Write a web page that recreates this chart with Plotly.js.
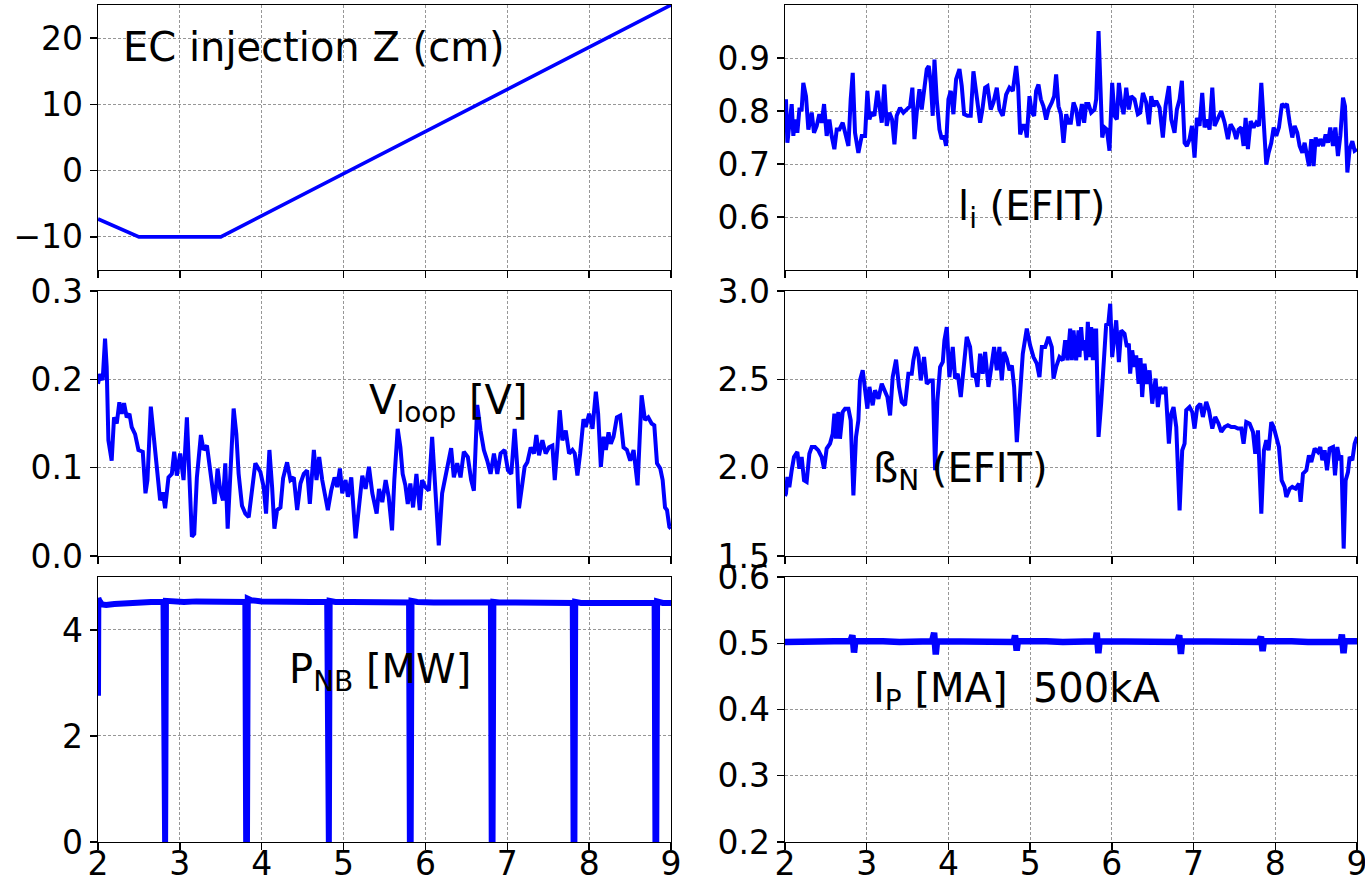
<!DOCTYPE html>
<html>
<head>
<meta charset="utf-8">
<script src="https://cdn.plot.ly/plotly-3.0.1.min.js"></script>
<style>html,body{margin:0;padding:0;background:#fff;}#chart{width:1365px;height:882px;}</style>
</head>
<body>
<div id="chart"></div>
<script>
// ---------- data ----------
const ecT = [2.0, 2.5, 3.5, 9.0];
const ecZ = [-7.3, -10, -10, 25];

const liT = [2.000,2.012,2.029,2.053,2.082,2.102,2.122,2.151,2.176,2.204,2.224,2.257,2.286,2.327,2.355,2.388,2.420,2.449,2.478,2.510,2.543,2.571,2.604,2.633,2.665,2.706,2.747,2.776,2.804,2.829,2.857,2.898,2.939,2.980,3.008,3.033,3.061,3.094,3.131,3.155,3.184,3.216,3.245,3.278,3.310,3.339,3.367,3.408,3.449,3.490,3.531,3.559,3.584,3.612,3.645,3.673,3.702,3.735,3.759,3.784,3.808,3.829,3.857,3.890,3.918,3.947,3.971,4.000,4.029,4.061,4.094,4.135,4.163,4.192,4.233,4.273,4.306,4.347,4.388,4.416,4.449,4.478,4.518,4.551,4.592,4.624,4.665,4.706,4.747,4.788,4.829,4.853,4.878,4.910,4.939,4.959,4.992,5.020,5.049,5.073,5.102,5.131,5.163,5.196,5.224,5.265,5.294,5.318,5.347,5.376,5.408,5.441,5.469,5.498,5.531,5.563,5.592,
5.604,5.633,5.661,5.686,5.714,5.747,5.788,5.808,5.837,5.857,5.882,5.910,5.939,5.971,6.004,6.033,6.061,6.086,6.114,6.143,6.176,6.208,6.237,6.278,6.318,6.347,6.380,6.420,6.453,6.482,6.510,6.543,6.584,6.624,6.657,6.698,6.727,6.767,6.796,6.829,6.857,6.890,6.918,6.951,6.980,7.012,7.041,7.073,7.106,7.135,7.163,7.196,7.229,7.257,7.298,7.339,7.380,7.420,7.453,7.490,7.522,7.551,7.584,7.612,7.637,7.665,7.698,7.735,7.767,7.800,7.829,7.857,7.890,7.918,7.951,7.980,8.012,8.045,8.082,8.114,8.143,8.176,8.208,8.237,8.269,8.298,8.331,8.359,8.388,8.412,8.441,8.469,8.494,8.522,8.551,8.584,8.616,8.645,8.673,8.706,8.735,8.767,8.796,8.829,8.853,8.882,8.910,8.943,8.971,9.000];
const liV = [0.790,0.822,0.740,0.772,0.813,0.753,0.784,0.759,0.803,0.803,0.853,0.828,0.765,0.797,0.759,0.772,0.794,0.778,0.813,0.753,0.784,0.753,0.728,0.765,0.765,0.778,0.747,0.734,0.822,0.872,0.759,0.721,0.753,0.753,0.838,0.784,0.797,0.791,0.838,0.809,0.778,0.850,0.772,0.797,0.784,0.737,0.791,0.806,0.797,0.803,0.809,0.844,0.747,0.797,0.841,0.803,0.844,0.879,0.885,0.853,0.791,0.897,0.822,0.765,0.747,0.753,0.734,0.822,0.838,0.794,0.860,0.879,0.847,0.794,0.791,0.791,0.875,0.828,0.778,0.803,0.844,0.847,0.803,0.816,0.844,0.803,0.791,0.831,0.844,0.838,0.885,0.847,0.756,0.772,0.772,0.750,0.828,0.797,0.791,0.838,0.850,0.822,0.809,0.784,0.803,0.816,0.828,0.869,0.809,0.794,0.740,0.794,0.778,0.778,0.816,0.803,0.772,
0.784,0.813,0.778,0.813,0.813,0.797,0.803,0.822,0.951,0.853,0.750,0.769,0.765,0.725,0.853,0.791,0.784,0.853,0.816,0.794,0.844,0.803,0.828,0.822,0.794,0.797,0.834,0.816,0.775,0.828,0.809,0.819,0.806,0.750,0.809,0.847,0.784,0.759,0.803,0.822,0.857,0.740,0.734,0.747,0.772,0.712,0.787,0.772,0.834,0.769,0.784,0.765,0.844,0.772,0.784,0.800,0.778,0.747,0.775,0.765,0.747,0.765,0.769,0.734,0.787,0.728,0.781,0.769,0.778,0.772,0.853,0.778,0.699,0.721,0.740,0.769,0.753,0.769,0.813,0.809,0.813,0.778,0.750,0.772,0.759,0.734,0.721,0.740,0.712,0.696,0.747,0.696,0.750,0.734,0.747,0.734,0.756,0.740,0.769,0.734,0.769,0.715,0.753,0.825,0.809,0.684,0.728,0.743,0.725,0.728];

const vloopT = [2.000,2.024,2.057,2.086,2.106,2.127,2.167,2.196,2.229,2.261,2.290,2.318,2.351,2.384,2.412,2.453,2.494,2.547,2.580,2.604,2.645,2.678,2.718,2.759,2.792,2.820,2.861,2.902,2.931,2.963,3.004,3.045,3.086,3.118,3.147,3.176,3.208,3.257,3.290,3.331,3.363,3.392,3.424,3.461,3.494,3.527,3.555,3.584,3.616,3.657,3.690,3.718,3.759,3.800,3.841,3.882,3.922,3.984,4.024,4.053,4.094,4.127,4.155,4.188,4.229,4.261,4.310,4.351,4.392,4.433,4.473,4.514,4.555,4.588,4.637,4.669,4.702,4.739,4.780,4.808,4.849,4.890,4.922,4.955,4.984,5.024,5.053,5.094,5.147,5.188,5.229,5.269,5.310,5.351,5.404,5.433,5.473,5.514,5.551,5.592,
5.620,5.661,5.694,5.722,5.755,5.784,5.816,5.849,5.890,5.931,5.959,6.000,6.041,6.082,6.122,6.163,6.204,6.245,6.286,6.314,6.347,6.388,6.429,6.469,6.518,6.559,6.592,6.633,6.673,6.714,6.755,6.796,6.837,6.878,6.918,6.967,7.008,7.049,7.090,7.122,7.143,7.184,7.212,7.245,7.286,7.327,7.355,7.388,7.429,7.469,7.510,7.551,7.580,7.612,7.641,7.673,7.714,7.755,7.796,7.824,7.857,7.890,7.931,7.959,8.000,8.041,8.082,8.110,8.143,8.176,8.204,8.237,8.265,8.298,8.339,8.380,8.420,8.461,8.502,8.543,8.592,8.641,8.682,8.722,8.763,8.796,8.829,8.869,8.898,8.927,8.951,8.980,9.000];
const vloopV = [0.195,0.206,0.199,0.246,0.214,0.131,0.108,0.157,0.150,0.174,0.161,0.173,0.157,0.161,0.146,0.138,0.120,0.118,0.071,0.086,0.169,0.142,0.101,0.063,0.072,0.054,0.089,0.093,0.118,0.091,0.116,0.086,0.157,0.086,0.022,0.025,0.089,0.137,0.120,0.125,0.101,0.086,0.059,0.099,0.074,0.063,0.105,0.031,0.101,0.167,0.138,0.093,0.057,0.048,0.044,0.078,0.105,0.095,0.078,0.048,0.120,0.078,0.031,0.052,0.055,0.088,0.106,0.086,0.089,0.052,0.082,0.093,0.097,0.059,0.120,0.086,0.112,0.086,0.067,0.052,0.074,0.089,0.078,0.099,0.071,0.086,0.067,0.089,0.020,0.052,0.091,0.076,0.101,0.071,0.048,0.076,0.061,0.086,0.067,0.029,
0.086,0.144,0.123,0.093,0.080,0.059,0.082,0.055,0.093,0.052,0.086,0.078,0.074,0.135,0.078,0.012,0.071,0.089,0.105,0.122,0.089,0.105,0.089,0.118,0.112,0.086,0.074,0.171,0.142,0.120,0.108,0.093,0.116,0.093,0.116,0.120,0.097,0.093,0.144,0.101,0.054,0.078,0.101,0.106,0.123,0.116,0.137,0.114,0.131,0.116,0.123,0.125,0.086,0.123,0.165,0.131,0.142,0.116,0.120,0.116,0.091,0.116,0.155,0.146,0.161,0.144,0.186,0.161,0.101,0.135,0.120,0.140,0.127,0.135,0.157,0.159,0.123,0.120,0.108,0.120,0.080,0.182,0.154,0.157,0.150,0.148,0.105,0.099,0.086,0.055,0.052,0.033,0.031];

const betaT = [2.000,2.012,2.029,2.053,2.082,2.110,2.151,2.176,2.204,2.233,2.265,2.298,2.327,2.367,2.408,2.449,2.478,2.510,2.551,2.584,2.604,2.624,2.653,2.673,2.706,2.735,2.776,2.804,2.837,2.869,2.898,2.918,2.951,2.980,3.008,3.033,3.073,3.102,3.143,3.184,3.224,3.253,3.286,3.318,3.359,3.396,3.429,3.469,3.510,3.551,3.571,3.604,3.633,3.661,3.702,3.735,3.776,3.808,3.837,3.865,3.898,3.931,3.951,3.980,4.012,4.053,4.082,4.114,4.151,4.192,4.224,4.265,4.298,4.327,4.355,4.388,4.420,4.449,4.490,4.531,4.559,4.592,4.624,4.653,4.682,4.714,4.747,4.776,4.804,4.837,4.878,4.910,4.959,5.000,5.041,5.082,5.114,5.143,5.184,5.224,5.265,5.286,5.318,5.359,5.400,5.429,5.457,5.490,5.510,5.531,5.563,5.592,
5.604,5.624,5.645,5.665,5.686,5.706,5.727,5.747,5.767,5.788,5.808,5.837,5.869,5.898,5.931,5.955,5.980,6.004,6.033,6.053,6.086,6.114,6.155,6.184,6.208,6.224,6.249,6.278,6.298,6.327,6.351,6.371,6.400,6.429,6.461,6.494,6.535,6.563,6.592,6.624,6.657,6.698,6.727,6.755,6.788,6.829,6.861,6.890,6.910,6.951,6.984,7.012,7.045,7.082,7.114,7.155,7.188,7.229,7.265,7.306,7.339,7.380,7.420,7.461,7.502,7.543,7.584,7.612,7.645,7.686,7.727,7.755,7.788,7.829,7.861,7.890,7.918,7.951,7.980,8.012,8.045,8.078,8.114,8.135,8.176,8.208,8.249,8.290,8.310,8.339,8.380,8.412,8.441,8.482,8.522,8.551,8.576,8.604,8.633,8.665,8.706,8.731,8.759,8.788,8.808,8.837,8.861,8.890,8.910,8.943,8.971,9.000];
const betaV = [1.840,1.853,1.947,1.890,1.985,2.060,2.089,1.994,2.060,1.928,1.919,2.079,2.117,2.117,2.098,2.060,1.994,2.108,2.136,2.192,2.306,2.164,2.315,2.164,2.315,2.334,2.334,2.268,1.843,2.174,2.268,2.494,2.551,2.438,2.334,2.457,2.353,2.438,2.390,2.475,2.438,2.400,2.296,2.513,2.611,2.457,2.372,2.353,2.532,2.532,2.608,2.683,2.636,2.494,2.626,2.475,2.494,2.494,1.985,2.381,2.570,2.598,2.721,2.796,2.513,2.683,2.504,2.532,2.400,2.626,2.740,2.683,2.513,2.532,2.457,2.645,2.532,2.655,2.457,2.589,2.683,2.551,2.683,2.494,2.655,2.617,2.551,2.579,2.457,2.145,2.457,2.645,2.787,2.692,2.626,2.589,2.513,2.683,2.683,2.740,2.683,2.504,2.570,2.626,2.608,2.721,2.608,2.787,2.608,2.777,2.608,2.777,
2.626,2.796,2.664,2.721,2.608,2.825,2.626,2.796,2.608,2.777,2.777,2.174,2.362,2.589,2.815,2.806,2.928,2.626,2.777,2.834,2.598,2.777,2.758,2.683,2.702,2.532,2.664,2.570,2.636,2.475,2.620,2.400,2.589,2.475,2.551,2.362,2.504,2.343,2.457,2.419,2.457,2.136,2.306,2.343,2.230,1.758,2.098,2.136,2.325,2.343,2.315,2.221,2.343,2.362,2.287,2.372,2.325,2.221,2.287,2.249,2.202,2.230,2.240,2.230,2.230,2.221,2.221,2.136,2.258,2.249,2.202,2.079,2.211,1.740,2.098,2.155,2.098,2.258,2.230,2.174,2.117,1.928,1.891,1.834,1.881,1.891,1.881,1.909,1.806,1.966,1.985,2.070,2.032,2.108,2.089,2.117,2.042,2.098,1.985,2.108,2.117,1.957,2.117,2.042,2.070,1.542,1.928,1.975,2.060,2.042,2.136,2.174];

const pnbT = [2.000,2.004,2.015,2.05,2.10,2.20,2.35,2.50,2.65,2.80,2.810,2.820,2.83,2.90,3.05,3.20,3.40,3.60,3.80,3.810,3.820,3.83,3.87,4.00,4.20,4.40,4.60,4.80,4.810,4.820,4.83,4.90,5.10,5.30,5.50,5.80,5.810,5.820,5.83,5.90,6.10,6.30,6.50,6.80,6.810,6.820,6.83,6.90,7.10,7.30,7.50,7.80,7.810,7.820,7.83,7.90,8.10,8.30,8.50,8.80,8.810,8.820,8.83,8.90,9.00];
const pnbV = [2.76,4.60,4.56,4.48,4.47,4.49,4.51,4.52,4.53,4.53,0,0,4.55,4.54,4.53,4.54,4.53,4.54,4.53,0,0,4.59,4.56,4.54,4.53,4.54,4.53,4.53,0,0,4.55,4.53,4.53,4.52,4.53,4.52,0,0,4.55,4.53,4.52,4.52,4.52,4.52,0,0,4.53,4.52,4.52,4.51,4.52,4.51,0,0,4.53,4.51,4.51,4.51,4.52,4.51,0,0,4.54,4.51,4.51];

const ipT = [2.00,2.20,2.40,2.60,2.80,2.825,2.835,2.845,2.86,3.00,3.20,3.40,3.60,3.80,3.825,3.835,3.845,3.86,4.00,4.20,4.40,4.60,4.80,4.815,4.825,4.835,4.85,5.00,5.20,5.40,5.60,5.80,5.815,5.825,5.835,5.85,6.00,6.20,6.40,6.60,6.80,6.825,6.835,6.845,6.86,7.00,7.20,7.40,7.60,7.80,7.825,7.835,7.845,7.86,8.00,8.20,8.40,8.60,8.80,8.815,8.825,8.835,8.85,9.00];
const ipV = [0.502,0.503,0.502,0.503,0.503,0.512,0.500,0.486,0.503,0.502,0.503,0.502,0.503,0.503,0.516,0.500,0.483,0.503,0.503,0.502,0.503,0.503,0.502,0.512,0.500,0.489,0.503,0.502,0.503,0.502,0.502,0.503,0.516,0.500,0.485,0.503,0.503,0.502,0.502,0.503,0.502,0.512,0.500,0.484,0.503,0.503,0.502,0.503,0.502,0.502,0.510,0.500,0.488,0.503,0.502,0.503,0.502,0.502,0.502,0.513,0.500,0.485,0.503,0.503];

const xTicks = [2,3,4,5,6,7,8,9];
const labels = {
  ec: 'EC injection Z (cm)',
  li: 'l<sub>i</sub> (EFIT)',
  vloop: 'V<sub>loop</sub> [V]',
  beta: '\u00DF<sub>N</sub> (EFIT)',
  pnb: 'P<sub>NB</sub> [MW]',
  ip: 'I<sub>P</sub> [MA]\u00a0 500kA'
};

// ---------- chart ----------
const BLUE = '#0000ff';
const FONT = 'DejaVu Sans, sans-serif';
function tr(x, y, ax, w) {
  return {x: x, y: y, xaxis: 'x' + ax, yaxis: 'y' + ax, type: 'scatter', mode: 'lines',
          line: {color: BLUE, width: w}, hoverinfo: 'skip', showlegend: false};
}
const data = [
  tr(ecT, ecZ, '', 3.6),
  tr(liT, liV, '2', 4),
  tr(vloopT, vloopV, '3', 4),
  tr(betaT, betaV, '4', 4),
  tr(pnbT, pnbV, '5', 6),
  tr(ipT, ipV, '6', 6.5)
];

const GRID = {showgrid: true, gridcolor: '#8c8c8c', griddash: '3px,2px', gridwidth: 0.9, zeroline: false};
function xa(dom, anchor, labels) {
  return Object.assign({domain: dom, anchor: anchor, range: [2, 9], tickvals: xTicks, showticklabels: labels,
    showline: true, mirror: true, linecolor: '#000', linewidth: 1.3,
    ticks: 'outside', ticklen: 7, tickwidth: 1.3, tickcolor: '#000', ticklabelstandoff: -15,
    ticklabeloverflow: 'allow',
    tickfont: {family: FONT, size: 33, color: '#000'}}, GRID);
}
function ya(dom, anchor, range, vals, fmt) {
  return Object.assign({domain: dom, anchor: anchor, range: range, tickvals: vals, tickformat: fmt,
    showline: true, mirror: true, linecolor: '#000', linewidth: 1.3,
    ticks: 'outside', ticklen: 7, tickwidth: 1.3, tickcolor: '#000',
    tickfont: {family: FONT, size: 33, color: '#000'}}, GRID);
}
const L = [0, 0.45512], R = [0.54567, 1];
const T = [0.68339, 1], M = [0.34170, 0.65830], B = [0, 0.31661];

function ann(text, xref, yref, x, y) {
  return {text: text, xref: xref, yref: yref, x: x, y: y, xanchor: 'left', yanchor: 'middle',
    showarrow: false, font: {family: FONT, size: 40, color: '#000'}};
}

const layout = {
  width: 1365, height: 882,
  margin: {l: 98, r: 8, t: 5, b: 40},
  paper_bgcolor: '#fff', plot_bgcolor: '#fff',
  showlegend: false,
  xaxis: xa(L, 'y', false),  yaxis: ya(T, 'x', [-15, 25], [-10, 0, 10, 20], ''),
  xaxis2: xa(R, 'y2', false), yaxis2: ya(T, 'x2', [0.5, 1.0], [0.6, 0.7, 0.8, 0.9], '.1f'),
  xaxis3: xa(L, 'y3', false), yaxis3: ya(M, 'x3', [0, 0.3], [0, 0.1, 0.2, 0.3], '.1f'),
  xaxis4: xa(R, 'y4', false), yaxis4: ya(M, 'x4', [1.5, 3.0], [1.5, 2.0, 2.5, 3.0], '.1f'),
  xaxis5: xa(L, 'y5', true),  yaxis5: ya(B, 'x5', [0, 5], [0, 2, 4], ''),
  xaxis6: xa(R, 'y6', true),  yaxis6: ya(B, 'x6', [0.2, 0.6], [0.2, 0.3, 0.4, 0.5, 0.6], '.1f'),
  annotations: [
    ann(labels.ec, 'x', 'y', 2.28, 18.6),
    ann(labels.li, 'x2', 'y2', 4.09, 0.615),
    ann(labels.vloop, 'x3', 'y3', 5.29, 0.173),
    ann(labels.beta, 'x4', 'y4', 3.05, 1.98),
    ann(labels.pnb, 'x5', 'y5', 4.31, 3.21),
    ann(labels.ip, 'x6', 'y6', 3.05, 0.428)
  ]
};

Plotly.newPlot('chart', data, layout, {staticPlot: true, displayModeBar: false});
</script>
</body>
</html>
